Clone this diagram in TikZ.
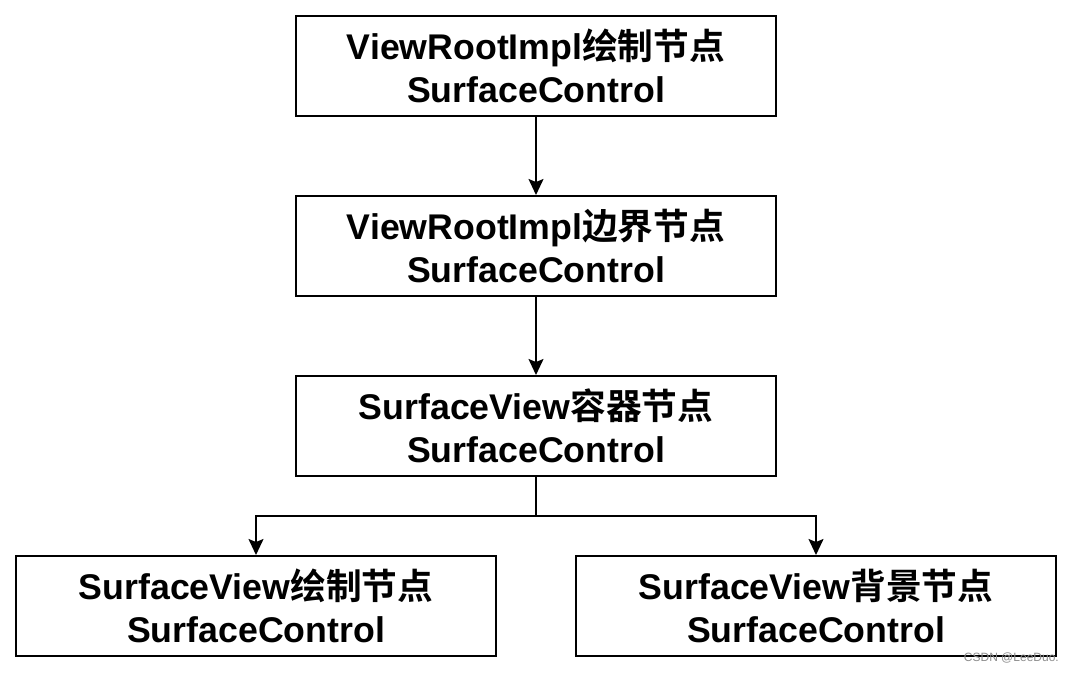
\documentclass[tikz,border=0pt]{standalone}
\usepackage{fontspec}
\setmainfont{Liberation Sans}
\newfontfamily\cjk{Noto Sans CJK SC}[BoldFont={Noto Sans CJK SC Bold}]
\usetikzlibrary{arrows.meta}
\tikzset{
  box/.style={draw=black, line width=2pt, minimum width=480pt, minimum height=100pt, inner sep=0pt, align=center,
    font=\fontsize{35.7pt}{43pt}\selectfont\bfseries},
  conn/.style={line width=1.6pt, -{Stealth[length=16pt,width=15pt,inset=3pt]}},
}
\begin{document}
\begin{tikzpicture}[x=1pt,y=-1pt]
\useasboundingbox[fill=white] (0,0) rectangle (1074,674);
\node[box] (a) at (536,66) {ViewRootImpl{\cjk 绘制节点}\\SurfaceControl};
\node[box] (b) at (536,246) {ViewRootImpl{\cjk 边界节点}\\SurfaceControl};
\node[box] (c) at (536,426) {SurfaceView{\cjk 容器节点}\\SurfaceControl};
\node[box] (d) at (256,606) {SurfaceView{\cjk 绘制节点}\\SurfaceControl};
\node[box] (e) at (816,606) {SurfaceView{\cjk 背景节点}\\SurfaceControl};
\coordinate (j) at (536,516);
\draw[conn] (a) -- (b);
\draw[conn] (b) -- (c);
\draw[line width=1.6pt] (c.south) -- (j);
\draw[conn] (j) -| (d.north);
\draw[conn] (j) -| (e.north);
\node[anchor=south east, inner sep=0pt, text=black!45, font=\fontsize{12pt}{13pt}\selectfont] (w) at (1059,663) {CSDN @LeeDuo.};
\end{tikzpicture}
\end{document}
